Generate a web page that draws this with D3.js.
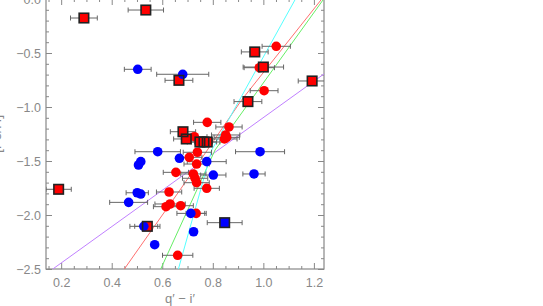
<!DOCTYPE html>
<html>
<head>
<meta charset="utf-8">
<script src="https://cdn.jsdelivr.net/npm/d3@7"></script>
<style>
  body { margin: 0; background: #fff; }
  svg { display: block; font-family: "Liberation Sans", Arial, sans-serif; }
</style>
</head>
<body>
<div id="chart"></div>
<script>
// data: [colour, error, metallicity, colour err]
var redX   = [1.051, 0.984, 1.003, 0.778, 0.864, 0.727, 0.851, 0.855, 0.846, 0.739, 0.707, 0.736,
              0.654, 0.723, 0.730, 0.736, 0.776, 0.627, 0.631, 0.615, 0.673, 0.734, 0.661];
var redY   = [-0.438, -0.636, -0.849, -1.142, -1.185, -1.275, -1.259, -1.281, -1.296, -1.419, -1.466, -1.528,
              -1.605, -1.620, -1.660, -1.701, -1.753, -1.787, -1.898, -1.923, -1.914, -1.985, -2.373];
var redErr = [0.056, 0.060, 0.055, 0.054, 0.052, 0.050, 0.056, 0.050, 0.050, 0.056, 0.050, 0.050,
              0.050, 0.050, 0.050, 0.050, 0.050, 0.050, 0.060, 0.050, 0.050, 0.040, 0.060];

var blueX   = [0.503, 0.681, 0.582, 0.987, 0.515, 0.506, 0.668, 0.776, 0.802, 0.963, 0.501, 0.515,
               0.467, 0.713, 0.527, 0.724, 0.570];
var blueY   = [-0.651, -0.697, -1.414, -1.414, -1.506, -1.537, -1.475, -1.506, -1.630, -1.620, -1.794, -1.806,
               -1.883, -1.985, -2.105, -2.155, -2.275];
var blueErr = [0.053, 0.103, 0.090, 0.097, 0, 0, 0, 0.077, 0.050, 0.044, 0.044, 0,
               0.075, 0.055, 0.055, 0, 0];

var sqX    = [0.290, 0.535, 0.666, 0.966, 1.000, 1.193, 0.939, 0.682, 0.695, 0.749, 0.765, 0.778, 0.190, 0.541, 0.847];
var sqY    = [-0.176, -0.102, -0.753, -0.490, -0.630, -0.759, -0.950, -1.229, -1.296, -1.324, -1.324, -1.324, -1.762, -2.105, -2.071];
var sqErr  = [0.053, 0.070, 0.055, 0.053, 0.080, 0.055, 0.055, 0.050, 0.050, 0.050, 0.050, 0.050, 0.050, 0.050, 0.069];
var sqFill = ["red", "red", "red", "red", "red", "red", "red", "red", "red", "red", "red", "red", "red", "red", "blue"];

// fit relations, sampled from the figure
var fitLines = [
  { color: "#c080ff", x: [0.167, 1.240], y: [-2.5, -0.694] },
  { color: "#ff7070", x: [0.450, 0.670, 0.914, 1.228], y: [-2.5, -1.769, -0.935, -0.009] },
  { color: "#66ee66", x: [0.594, 0.809, 1.236], y: [-2.5, -1.398, -0.009] },
  { color: "#55ffff", x: [0.664, 0.796, 1.125], y: [-2.5, -1.398, -0.009] }
];

var xMajor = [0.2, 0.4, 0.6, 0.8, 1.0, 1.2];
var yMajor = [0.0, -0.5, -1.0, -1.5, -2.0, -2.5];

var margin = { top: -1, left: 46 },
    width = 278,
    height = 270;

var svg = d3.select("#chart")
    .append("svg")
    .attr("width", 543)
    .attr("height", 306);

var g = svg.append("g")
    .attr("transform", "translate(" + margin.left + "," + margin.top + ")");

var x = d3.scaleLinear().domain([0.14, 1.24]).range([0, width]);
var y = d3.scaleLinear().domain([-2.5, 0.0]).range([height, 0]);

g.append("clipPath").attr("id", "clip")
    .append("rect").attr("width", width).attr("height", height);

var axisColor = "#888";
var fmt = d3.format(".1f");

// minor ticks
var xMinor = d3.range(0.15, 1.24, 0.05).filter(function (v) { return Math.abs(v * 5 - Math.round(v * 5)) > 1e-6; });
var yMinor = d3.range(-2.5, 0.001, 0.1).filter(function (v) { return Math.abs(v * 2 - Math.round(v * 2)) > 1e-6; });

function styleAxis(sel) {
  sel.select(".domain").remove();
  sel.selectAll("line").attr("stroke", axisColor);
  sel.selectAll("text").attr("fill", axisColor).style("font-size", "12.5px");
}

g.append("g").attr("transform", "translate(0," + height + ")")
    .call(d3.axisBottom(x).tickValues(xMajor).tickFormat(fmt).tickSizeInner(-6).tickSizeOuter(0).tickPadding(9))
    .call(styleAxis);
g.append("g").attr("transform", "translate(0," + height + ")")
    .call(d3.axisBottom(x).tickValues(xMinor).tickFormat("").tickSizeInner(-3).tickSizeOuter(0))
    .call(styleAxis);
g.append("g")
    .call(d3.axisTop(x).tickValues(xMajor).tickFormat("").tickSizeInner(-6).tickSizeOuter(0))
    .call(styleAxis);
g.append("g")
    .call(d3.axisTop(x).tickValues(xMinor).tickFormat("").tickSizeInner(-3).tickSizeOuter(0))
    .call(styleAxis);

g.append("g")
    .call(d3.axisLeft(y).tickValues(yMajor).tickFormat(fmt).tickSizeInner(-6).tickSizeOuter(0).tickPadding(5))
    .call(styleAxis);
g.append("g")
    .call(d3.axisLeft(y).tickValues(yMinor).tickFormat("").tickSizeInner(-3).tickSizeOuter(0))
    .call(styleAxis);
g.append("g").attr("transform", "translate(" + width + ",0)")
    .call(d3.axisRight(y).tickValues(yMajor).tickFormat("").tickSizeInner(-6).tickSizeOuter(0))
    .call(styleAxis);
g.append("g").attr("transform", "translate(" + width + ",0)")
    .call(d3.axisRight(y).tickValues(yMinor).tickFormat("").tickSizeInner(-3).tickSizeOuter(0))
    .call(styleAxis);

// frame
g.append("rect")
    .attr("width", width)
    .attr("height", height)
    .attr("fill", "none")
    .attr("stroke", axisColor)
    .attr("stroke-width", 1.2);

// axis titles
svg.append("text")
    .attr("x", 180)
    .attr("y", 303)
    .attr("text-anchor", "middle")
    .attr("fill", axisColor)
    .style("font-size", "13px")
    .text("q\u2032 \u2212 i\u2032");

svg.append("text")
    .attr("transform", "translate(1,134) rotate(-90)")
    .attr("text-anchor", "middle")
    .attr("fill", axisColor)
    .style("font-size", "14px")
    .text("[Fe/H]");

var plot = g.append("g").attr("clip-path", "url(#clip)");

// fit lines
var line = d3.line()
    .x(function (d) { return x(d[0]); })
    .y(function (d) { return y(d[1]); });

fitLines.forEach(function (f) {
  plot.append("path")
      .datum(d3.zip(f.x, f.y))
      .attr("fill", "none")
      .attr("stroke", f.color)
      .attr("stroke-width", 1)
      .attr("d", line);
});

// error bars
var allPts = d3.zip(redX, redY, redErr)
    .concat(d3.zip(blueX, blueY, blueErr))
    .concat(d3.zip(sqX, sqY, sqErr))
    .filter(function (d) { return d[2] > 0; });

var eb = plot.append("g").attr("stroke", "#666").attr("stroke-width", 1);
allPts.forEach(function (d) {
  var x0 = x(d[0] - d[2]), x1 = x(d[0] + d[2]), yy = y(d[1]);
  eb.append("line").attr("x1", x0).attr("x2", x1).attr("y1", yy).attr("y2", yy);
  eb.append("line").attr("x1", x0).attr("x2", x0).attr("y1", yy - 2.5).attr("y2", yy + 2.5);
  eb.append("line").attr("x1", x1).attr("x2", x1).attr("y1", yy - 2.5).attr("y2", yy + 2.5);
});

var sqSize = 9.5;

// square fills first
plot.selectAll(".sqfill")
    .data(d3.zip(sqX, sqY, sqFill))
    .enter().append("rect")
    .attr("x", function (d) { return x(d[0]) - sqSize / 2; })
    .attr("y", function (d) { return y(d[1]) - sqSize / 2; })
    .attr("width", sqSize)
    .attr("height", sqSize)
    .attr("fill", function (d) { return d[2]; });

// circles
plot.selectAll(".red")
    .data(d3.zip(redX, redY))
    .enter().append("circle")
    .attr("cx", function (d) { return x(d[0]); })
    .attr("cy", function (d) { return y(d[1]); })
    .attr("r", 4.8)
    .attr("fill", "red");

plot.selectAll(".blue")
    .data(d3.zip(blueX, blueY))
    .enter().append("circle")
    .attr("cx", function (d) { return x(d[0]); })
    .attr("cy", function (d) { return y(d[1]); })
    .attr("r", 4.8)
    .attr("fill", "blue");

// square outlines on top
plot.selectAll(".sqline")
    .data(d3.zip(sqX, sqY))
    .enter().append("rect")
    .attr("x", function (d) { return x(d[0]) - sqSize / 2; })
    .attr("y", function (d) { return y(d[1]) - sqSize / 2; })
    .attr("width", sqSize)
    .attr("height", sqSize)
    .attr("fill", "none")
    .attr("stroke", "#222")
    .attr("stroke-width", 1.6);
</script>
</body>
</html>
